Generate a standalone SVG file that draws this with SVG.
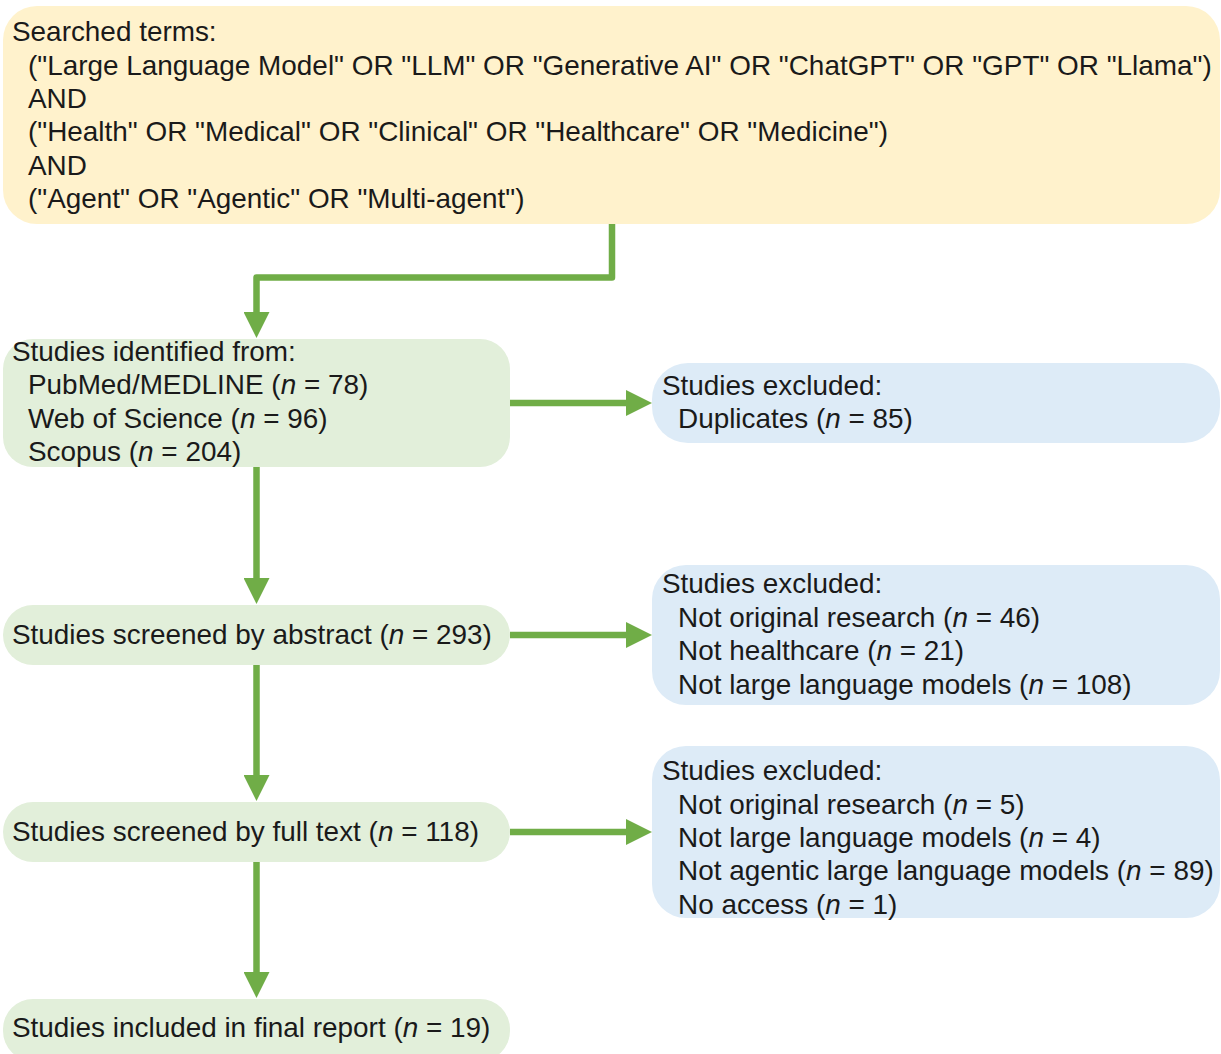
<svg xmlns="http://www.w3.org/2000/svg" width="1221" height="1054" viewBox="0 0 1221 1054">
<defs>
<style>
.t{font-family:"Liberation Sans",Arial,sans-serif;font-size:27.9px;fill:#1a1a1a}
.y{fill:#FFF2CC}
.g{fill:#E2EFDA}
.b{fill:#DDEBF7}
.c{fill:none;stroke:#70AD47;stroke-width:6.5;stroke-linejoin:round}
</style>
<marker id="ah" viewBox="0 0 26 26" refX="0" refY="13" markerWidth="26" markerHeight="26" markerUnits="userSpaceOnUse" orient="auto">
<path d="M0,0 L26,13 L0,26 z" fill="#70AD47"/>
</marker>
</defs>
<rect width="1221" height="1054" fill="#fff"/>
<g id="search">
<rect class="y" x="3" y="6" width="1217" height="218" rx="34"/>
<text class="t" x="12" y="41">Searched terms:</text>
<text class="t" x="28" y="75">("Large Language Model" OR "LLM" OR "Generative AI" OR "ChatGPT" OR "GPT" OR "Llama")</text>
<text class="t" x="28" y="108">AND</text>
<text class="t" x="28" y="141">("Health" OR "Medical" OR "Clinical" OR "Healthcare" OR "Medicine")</text>
<text class="t" x="28" y="175">AND</text>
<text class="t" x="28" y="208">("Agent" OR "Agentic" OR "Multi-agent")</text>
</g>
<g id="identified">
<rect class="g" x="3" y="339" width="507" height="128" rx="30"/>
<text class="t" x="12" y="361">Studies identified from:</text>
<text class="t" x="28" y="394">PubMed/MEDLINE (<tspan font-style="italic">n</tspan> = 78)</text>
<text class="t" x="28" y="428">Web of Science (<tspan font-style="italic">n</tspan> = 96)</text>
<text class="t" x="28" y="461">Scopus (<tspan font-style="italic">n</tspan> = 204)</text>
</g>
<g id="excluded1">
<rect class="b" x="652" y="363" width="568" height="80" rx="36"/>
<text class="t" x="662" y="395">Studies excluded:</text>
<text class="t" x="678" y="428">Duplicates (<tspan font-style="italic">n</tspan> = 85)</text>
</g>
<g id="abstract">
<rect class="g" x="3" y="605" width="507" height="60" rx="30"/>
<text class="t" x="12" y="644">Studies screened by abstract (<tspan font-style="italic">n</tspan> = 293)</text>
</g>
<g id="excluded2">
<rect class="b" x="652" y="565" width="568" height="140" rx="34"/>
<text class="t" x="662" y="593">Studies excluded:</text>
<text class="t" x="678" y="627">Not original research (<tspan font-style="italic">n</tspan> = 46)</text>
<text class="t" x="678" y="660">Not healthcare (<tspan font-style="italic">n</tspan> = 21)</text>
<text class="t" x="678" y="694">Not large language models (<tspan font-style="italic">n</tspan> = 108)</text>
</g>
<g id="fulltext">
<rect class="g" x="3" y="802" width="507" height="60" rx="30"/>
<text class="t" x="12" y="841">Studies screened by full text (<tspan font-style="italic">n</tspan> = 118)</text>
</g>
<g id="excluded3">
<rect class="b" x="652" y="746" width="568" height="172" rx="34"/>
<text class="t" x="662" y="780">Studies excluded:</text>
<text class="t" x="678" y="814">Not original research (<tspan font-style="italic">n</tspan> = 5)</text>
<text class="t" x="678" y="847">Not large language models (<tspan font-style="italic">n</tspan> = 4)</text>
<text class="t" x="678" y="880">Not agentic large language models (<tspan font-style="italic">n</tspan> = 89)</text>
<text class="t" x="678" y="914">No access (<tspan font-style="italic">n</tspan> = 1)</text>
</g>
<g id="included">
<rect class="g" x="3" y="999" width="507" height="62" rx="30"/>
<text class="t" x="12" y="1037">Studies included in final report (<tspan font-style="italic">n</tspan> = 19)</text>
</g>
<g id="connectors">
<path class="c" d="M612,224 V277.5 H256.5 V312" marker-end="url(#ah)"/>
<path class="c" d="M256.5,467 V578" marker-end="url(#ah)"/>
<path class="c" d="M256.5,665 V775" marker-end="url(#ah)"/>
<path class="c" d="M256.5,862 V972" marker-end="url(#ah)"/>
<path class="c" d="M510,403 H626" marker-end="url(#ah)"/>
<path class="c" d="M510,635 H626" marker-end="url(#ah)"/>
<path class="c" d="M510,832 H626" marker-end="url(#ah)"/>
</g>
</svg>
